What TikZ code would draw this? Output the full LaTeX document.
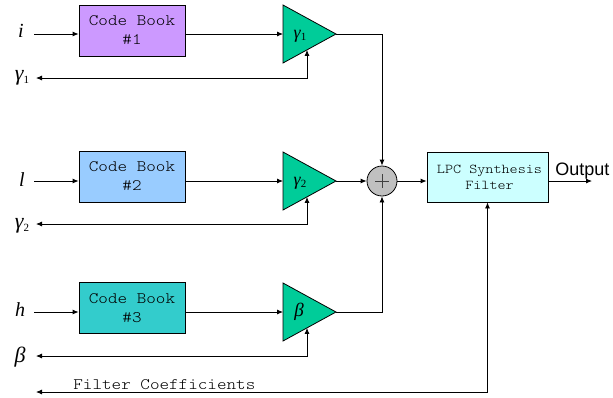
\documentclass[tikz,border=0pt]{standalone}
\usepackage{fontspec}
\setmonofont[FakeStretch=1.14]{lmmonolt10-regular.otf}
\newfontfamily\tms{Liberation Serif}
\newfontfamily\arial{Liberation Sans}
\usetikzlibrary{arrows.meta}

\definecolor{cbpurple}{HTML}{CC99FF}
\definecolor{cbblue}{HTML}{99CCFF}
\definecolor{cbteal}{HTML}{33CCCC}
\definecolor{ampgreen}{HTML}{00CC99}
\definecolor{lpccyan}{HTML}{CCFFFF}
\definecolor{sumgray}{HTML}{C0C0C0}
\definecolor{plusgray}{HTML}{404040}

% italic symbol with an upright subscript
\newcommand{\gsym}[3]{{\tms\itshape\fontsize{#3}{#3}\selectfont #1}\raisebox{-0.25em}{\tms\fontsize{11}{11}\selectfont #2}}

\begin{document}
\begin{tikzpicture}[x=1pt,y=-1pt,line width=0.8pt,
  >={Latex[length=6pt,width=5pt]},
  book/.style={draw, minimum width=106pt, minimum height=51pt, inner sep=0pt,
    align=center, font=\fontsize{16}{19}\selectfont\ttfamily},
  amp/.style={draw, fill=ampgreen, line join=miter},
  lbl/.style={inner sep=0pt, font=\tms\itshape\fontsize{20}{20}\selectfont},
  glbl/.style={inner sep=0pt, font=\tms\itshape\fontsize{22}{22}\selectfont}]
\useasboundingbox (0,0) rectangle (613,397);

% ---- row 1 ----
\node[book, fill=cbpurple] (cb1) at (132,30.5) {Code Book\\\#1};
\node[lbl] (in1) at (21,31) {i};
\coordinate (s1) at (34,34);
\path[amp] (283,5) -- (336,34) -- (283,63) -- cycle;
\coordinate (a1in) at (283,34);
\coordinate (a1tip) at (336,34);
\coordinate (a1fb) at (307,49.9);
\node[inner sep=0pt] (g1) at (300,36) {\gsym{γ}{1}{18}};
\coordinate (f1) at (36,78);
\node[inner sep=0pt] (o1) at (22,78) {\gsym{γ}{1}{22}};

% ---- row 2 ----
\node[book, fill=cbblue] (cb2) at (132,176.5) {Code Book\\\#2};
\node[lbl] (in2) at (22,180) {l};
\coordinate (s2) at (34,181);
\path[amp] (283,152) -- (336,181) -- (283,210) -- cycle;
\coordinate (a2in) at (283,181);
\coordinate (a2tip) at (336,181);
\coordinate (a2fb) at (307,196.9);
\node[inner sep=0pt] (g2) at (300,183) {\gsym{γ}{2}{18}};
\coordinate (f2) at (36,224);
\node[inner sep=0pt] (o2) at (22,226) {\gsym{γ}{2}{22}};

% ---- row 3 ----
\node[book, fill=cbteal] (cb3) at (132,308) {Code Book\\\#3};
\node[lbl] (in3) at (20,310) {h};
\coordinate (s3) at (34,312);
\path[amp] (283,283) -- (336,312) -- (283,341) -- cycle;
\coordinate (a3in) at (283,312);
\coordinate (a3tip) at (336,312);
\coordinate (a3fb) at (307,327.9);
\node[glbl, font=\tms\itshape\fontsize{19}{19}\selectfont] (g3) at (299,312) {β};
\coordinate (f3) at (36,356);
\node[glbl] (o3) at (20,357) {β};

% ---- summing junction and synthesis filter ----
\node[circle, draw, fill=sumgray, minimum size=30pt, inner sep=0pt] (sum) at (382,181) {};
\draw[plusgray, line width=0.7pt] (sum.center) +(-7,0) -- +(7,0)
  (sum.center) +(0,-7) -- +(0,7);
\node[draw, fill=lpccyan, minimum width=121pt, minimum height=50pt, inner sep=0pt,
  align=center, font=\fontsize{13.5}{16}\selectfont\ttfamily] (lpc) at (487.5,177)
  {\hspace*{4pt}LPC Synthesis\\\hspace*{4pt}Filter};
\coordinate (out) at (592,181);
\node[anchor=base west, inner sep=0pt, font=\arial\fontsize{18}{18}\selectfont] (outlbl) at (555,175) {Output};
\coordinate (fc) at (36,392);
\node[anchor=base west, inner sep=0pt, font=\fontsize{16}{16}\selectfont\ttfamily] (fclbl) at (73,389) {Filter Coefficients};

% ---- connectors ----
\foreach \k in {1,2,3}{
  \draw[->] (s\k) -- (s\k -| cb\k.west);
  \draw[->] (cb\k.east |- s\k) -- (a\k in);
  \draw[<->] (f\k) -| (a\k fb);
}
\draw[->] (a1tip) -| (sum.north);
\draw[->] (a2tip) -- (sum.west);
\draw[->] (a3tip) -| (sum.south);
\draw[->] (sum.east) -- (sum -| lpc.west);
\draw[->] (sum -| lpc.east) -- (out);
\draw[<->] (fc) -| (lpc.south);
\end{tikzpicture}
\end{document}
